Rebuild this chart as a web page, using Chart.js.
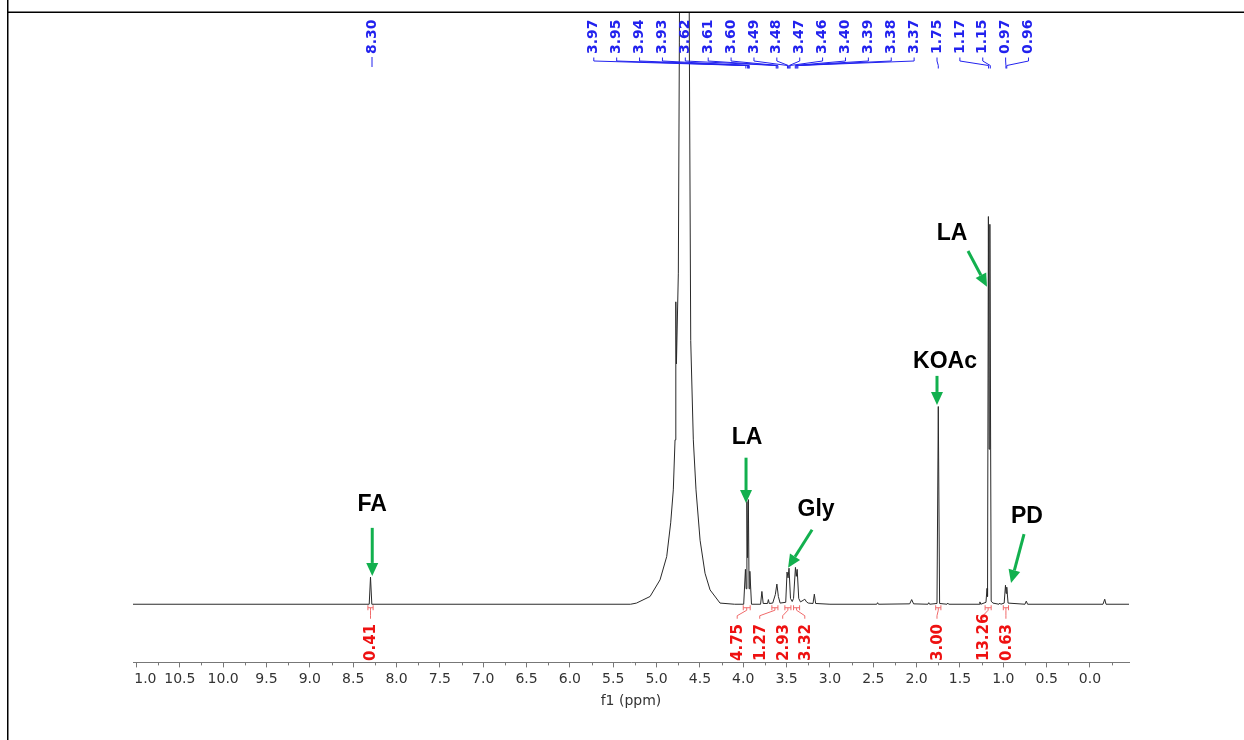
<!DOCTYPE html>
<html>
<head>
<meta charset="utf-8">
<script src="https://cdn.jsdelivr.net/npm/chart.js@4.4.0/dist/chart.umd.min.js"></script>
<style>
html,body{margin:0;padding:0;background:#fff;}
canvas{display:block;}
</style>
</head>
<body>
<canvas id="c" width="1244" height="740"></canvas>
<script>
// ---- spectrum (chemical shift in ppm, relative intensity; LA 1.17 ppm peak ~ 100) ----
const ppm = [
  11.04, 8.315, 8.300, 8.285,
  5.30, 5.232, 5.075, 4.96, 4.883, 4.837, 4.807, 4.787, 4.780, 4.776, 4.771, 4.749, 4.737, 4.68,
  4.622, 4.606, 4.576, 4.545, 4.498, 4.441, 4.383, 4.268, 4.10,
  3.995, 3.975, 3.967, 3.958, 3.950, 3.941, 3.933, 3.924, 3.905,
  3.80, 3.785, 3.77, 3.72, 3.71, 3.70, 3.66, 3.63, 3.612, 3.595, 3.575,
  3.51, 3.495, 3.483, 3.472, 3.455, 3.435, 3.42, 3.398, 3.388, 3.378, 3.36, 3.34,
  3.31, 3.29, 3.27, 3.25, 3.195, 3.18, 3.165,
  3.00, 2.46, 2.45, 2.44, 2.08, 2.057, 2.035,
  1.87, 1.86, 1.85, 1.765, 1.750, 1.735, 1.65, 1.64, 1.63,
  1.28, 1.27, 1.26, 1.20, 1.188, 1.182, 1.172, 1.164, 1.155, 1.14, 1.12,
  1.05, 1.04, 1.03, 0.99, 0.975, 0.968, 0.960, 0.945,
  0.75, 0.735, 0.72, -0.15, -0.17, -0.185, -0.45
];
const intensity = [
  0, 0, 7.0, 0,
  0, 0.3, 2.0, 6.3, 12.3, 21, 29.5, 42.4, 56, 78, 62, 85.4, 145, 520,
  145, 68, 42.4, 29.5, 16.5, 8.0, 3.7, 0.3, 0,
  0, 9, 4, 26.5, 12, 27, 4, 8.5, 0,
  0, 3.3, 0.2, 0.2, 1.2, 0.2, 0.3, 2.5, 5.2, 2.0, 0.3,
  0.5, 8.3, 6.8, 9.3, 1.5, 0.7, 1.5, 9.5, 7.2, 9.0, 1.5, 0.6,
  1.0, 1.3, 0.6, 0.3, 0.2, 2.6, 0.2,
  0, 0, 0.4, 0, 0.1, 1.2, 0.1,
  0, 0.4, 0, 0.2, 51, 0.2, 0, 0.3, 0,
  0, 0.6, 0, 0.5, 4.1, 2.0, 100, 40, 98, 0.8, 0.3,
  0, 0.3, 0, 0.3, 4.9, 2.8, 4.4, 0.3,
  0, 0.8, 0, 0, 1.3, 0, 0
];

// ---- axis ticks ----
const xTickValues = [11.0,10.5,10.0,9.5,9.0,8.5,8.0,7.5,7.0,6.5,6.0,5.5,5.0,4.5,4.0,3.5,3.0,2.5,2.0,1.5,1.0,0.5,0.0];
const xTickLabels = ['1.0','10.5','10.0','9.5','9.0','8.5','8.0','7.5','7.0','6.5','6.0','5.5','5.0','4.5','4.0','3.5','3.0','2.5','2.0','1.5','1.0','0.5','0.0'];

// ---- peak picking labels (blue) ----
const peakLabels = [8.30, 3.97, 3.95, 3.94, 3.93, 3.62, 3.61, 3.60, 3.49, 3.48, 3.47, 3.46, 3.40, 3.39, 3.38, 3.37, 1.75, 1.17, 1.15, 0.97, 0.96];

// ---- integrals (red) ----
const integralValues = [0.41, 4.75, 1.27, 2.93, 3.32, 3.00, 13.26, 0.63];
const integralFrom   = [8.33, 4.00, 3.67, 3.52, 3.42, 1.78, 1.21, 1.00];
const integralTo     = [8.27, 3.92, 3.60, 3.45, 3.35, 1.72, 1.14, 0.94];
const integralLabelPpm = [8.30, 4.07, 3.81, 3.545, 3.29, 1.765, 1.235, 0.97];

// ---- compound annotations (green arrows) ----
const compoundNames   = ['FA', 'LA', 'Gly', 'KOAc', 'LA', 'PD'];
const compoundTextPpm = [8.28, 3.956, 3.16, 1.672, 1.592, 0.727];
const compoundTextInt = [26.0, 43.2, 24.7, 62.8, 95.9, 22.9];
const arrowFromPpm = [8.28, 3.968, 3.206, 1.765, 1.407, 0.761];
const arrowFromInt = [19.7, 37.8, 19.2, 58.9, 91.1, 18.1];
const arrowToPpm   = [8.28, 3.968, 3.483, 1.765, 1.188, 0.911];
const arrowToInt   = [7.3, 26.1, 9.4, 51.4, 81.9, 5.5];

const BLUE = '#2222ee', RED = '#ee1111', GREEN = '#12b04e';

function drawArrow(ctx, x1, y1, x2, y2) {
  const a = Math.atan2(y2 - y1, x2 - x1);
  const hl = 13, hw = 6;
  const bx = x2 - hl * Math.cos(a), by = y2 - hl * Math.sin(a);
  ctx.beginPath();
  ctx.moveTo(x1, y1); ctx.lineTo(bx, by);
  ctx.lineWidth = 3; ctx.strokeStyle = GREEN; ctx.stroke();
  ctx.beginPath();
  ctx.moveTo(x2, y2);
  ctx.lineTo(bx + hw * Math.sin(a), by - hw * Math.cos(a));
  ctx.lineTo(bx - hw * Math.sin(a), by + hw * Math.cos(a));
  ctx.closePath(); ctx.fillStyle = GREEN; ctx.fill();
}

const nmrPlugin = {
  id: 'nmr',
  afterDraw(chart) {
    const ctx = chart.ctx, xs = chart.scales.x, ys = chart.scales.y, area = chart.chartArea;
    const axisY = area.bottom;
    ctx.save();
    // minor ticks
    ctx.strokeStyle = '#777'; ctx.lineWidth = 1;
    const minors = [];
    for (let i = 0; i < xTickValues.length - 1; i++) minors.push((xTickValues[i] + xTickValues[i + 1]) / 2);
    minors.push(xTickValues[xTickValues.length - 1] - 0.25);
    minors.forEach(v => {
      const px = Math.round(xs.getPixelForValue(v)) + 0.5;
      if (px < area.left || px > area.right) return;
      ctx.beginPath(); ctx.moveTo(px, axisY); ctx.lineTo(px, axisY + 3); ctx.stroke();
    });

    // frame lines
    ctx.fillStyle = '#000';
    ctx.fillRect(7, 0, 1.5, 740);
    ctx.fillRect(7, 11.5, 1237, 1.5);

    // blue peak labels
    ctx.font = 'bold 14px "DejaVu Sans"';
    ctx.fillStyle = BLUE; ctx.strokeStyle = BLUE; ctx.lineWidth = 1;
    peakLabels.forEach((v, i) => {
      const px = xs.getPixelForValue(v);
      const lx = i === 0 ? px + 1.5 : 593.8 + (i - 1) * 22.88;
      ctx.save(); ctx.translate(lx, 54); ctx.rotate(-Math.PI / 2);
      ctx.textAlign = 'left'; ctx.textBaseline = 'middle';
      ctx.fillText(v.toFixed(2), 0, 0); ctx.restore();
      ctx.beginPath();
      if (i === 0) { ctx.moveTo(lx, 57); ctx.lineTo(lx, 67); }
      else { ctx.moveTo(lx, 57.5); ctx.lineTo(lx, 61); ctx.lineTo(px, 65.5); ctx.lineTo(px, 68.5); }
      ctx.stroke();
    });

    // red integrals
    const base = ys.getPixelForValue(0);
    ctx.font = 'bold 15px "DejaVu Sans"';
    integralValues.forEach((v, i) => {
      const x1 = xs.getPixelForValue(integralFrom[i]), x2 = xs.getPixelForValue(integralTo[i]);
      const lx = xs.getPixelForValue(integralLabelPpm[i]);
      const by = base + 3.5, xc = (x1 + x2) / 2;
      ctx.strokeStyle = '#f06a6a'; ctx.lineWidth = 1;
      ctx.beginPath();
      ctx.moveTo(x1, by - 2.5); ctx.lineTo(x1, by + 2.5);
      ctx.moveTo(x2, by - 2.5); ctx.lineTo(x2, by + 2.5);
      ctx.moveTo(x1, by); ctx.lineTo(x2, by);
      ctx.moveTo(xc, by); ctx.lineTo(xc, by + 2.5);
      ctx.lineTo(lx, by + 8); ctx.lineTo(lx, by + 11);
      ctx.stroke();
      ctx.fillStyle = RED;
      ctx.save(); ctx.translate(lx + 1, 661); ctx.rotate(-Math.PI / 2);
      ctx.textAlign = 'left'; ctx.textBaseline = 'middle';
      ctx.fillText(v.toFixed(2), 0, 0); ctx.restore();
    });

    // compound annotations
    ctx.font = 'bold 23px "Liberation Sans"';
    ctx.textAlign = 'center'; ctx.textBaseline = 'middle';
    compoundNames.forEach((n, i) => {
      ctx.fillStyle = '#000';
      ctx.fillText(n, xs.getPixelForValue(compoundTextPpm[i]), ys.getPixelForValue(compoundTextInt[i]) + 1);
      drawArrow(ctx,
        xs.getPixelForValue(arrowFromPpm[i]), ys.getPixelForValue(arrowFromInt[i]),
        xs.getPixelForValue(arrowToPpm[i]), ys.getPixelForValue(arrowToInt[i]));
    });
    ctx.restore();
  }
};

new Chart(document.getElementById('c'), {
  type: 'line',
  data: {
    datasets: [{
      data: ppm.map((p, i) => ({ x: p, y: intensity[i] })),
      borderColor: '#2a2a2a', borderWidth: 1, pointRadius: 0, tension: 0, fill: false
    }]
  },
  options: {
    responsive: false, animation: false, devicePixelRatio: 1,
    layout: { padding: { left: 133, right: 115, top: 13, bottom: 28 } },
    plugins: { legend: { display: false }, tooltip: { enabled: false } },
    scales: {
      x: {
        type: 'linear', reverse: true, min: -0.45, max: 11.04,
        afterBuildTicks: s => { s.ticks = xTickValues.map(v => ({ value: v })); },
        ticks: {
          autoSkip: false, maxRotation: 0, minRotation: 0, padding: 4, color: '#333',
          font: { family: '"DejaVu Sans"', size: 14 },
          callback: (v, i) => (i === 0 ? '    ' : '') + xTickLabels[i]
        },
        grid: { display: true, drawOnChartArea: false, drawTicks: true, tickLength: 5, color: '#777' },
        border: { display: true, color: '#777', width: 1 },
        title: { display: true, text: 'f1 (ppm)', color: '#333', font: { family: '"DejaVu Sans"', size: 14 }, padding: { top: 1, bottom: 2 } }
      },
      y: { display: false, min: -15, max: 152.5 }
    }
  },
  plugins: [nmrPlugin]
});
</script>
</body>
</html>
